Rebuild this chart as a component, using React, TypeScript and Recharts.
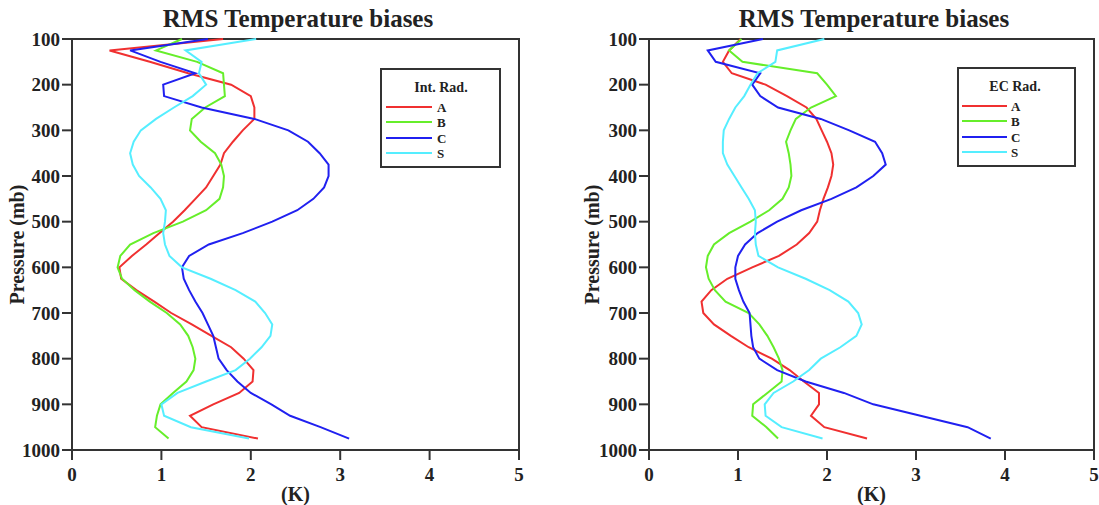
import React from 'react'
import { LineChart, Line, XAxis, YAxis, Legend, ReferenceArea } from 'recharts'

// pressure levels (mb), top of profile first
const levels = [100, 125, 150, 175, 200, 225, 250, 275, 300, 325, 350, 375, 400, 425, 450, 475, 500, 525, 550, 575, 600, 625, 650, 675, 700, 725, 750, 775, 800, 825, 850, 875, 900, 925, 950, 975]

// Int. Rad. panel
const intA = [1.69, 0.42, 0.87, 1.30, 1.78, 2.0, 2.04, 2.04, 1.91, 1.80, 1.70, 1.66, 1.58, 1.50, 1.38, 1.26, 1.13, 0.98, 0.83, 0.67, 0.53, 0.55, 0.72, 0.92, 1.11, 1.34, 1.56, 1.78, 1.92, 2.03, 2.02, 1.87, 1.58, 1.32, 1.45, 2.08]
const intB = [1.23, 0.94, 1.40, 1.69, 1.70, 1.71, 1.49, 1.34, 1.32, 1.44, 1.60, 1.67, 1.70, 1.69, 1.65, 1.50, 1.24, 0.91, 0.65, 0.54, 0.51, 0.56, 0.70, 0.87, 1.06, 1.21, 1.30, 1.35, 1.38, 1.36, 1.28, 1.13, 0.99, 0.95, 0.93, 1.08]
const intC = [1.52, 0.65, 0.99, 1.38, 1.02, 1.03, 1.45, 2.04, 2.42, 2.64, 2.77, 2.87, 2.87, 2.82, 2.70, 2.52, 2.24, 1.91, 1.53, 1.31, 1.23, 1.25, 1.31, 1.38, 1.46, 1.52, 1.58, 1.61, 1.64, 1.73, 1.85, 2.00, 2.23, 2.44, 2.78, 3.10]
const intS = [2.06, 1.27, 1.45, 1.42, 1.50, 1.35, 1.14, 0.94, 0.77, 0.69, 0.65, 0.68, 0.75, 0.88, 0.99, 1.05, 1.04, 1.02, 1.04, 1.09, 1.23, 1.55, 1.83, 2.05, 2.16, 2.24, 2.22, 2.12, 1.99, 1.83, 1.50, 1.18, 1.00, 1.03, 1.33, 1.98]

// EC Rad. panel
const ecA = [1.03, 0.90, 0.83, 0.93, 1.31, 1.55, 1.77, 1.88, 1.94, 2.00, 2.05, 2.07, 2.05, 2.01, 1.96, 1.92, 1.89, 1.80, 1.66, 1.46, 1.16, 0.88, 0.70, 0.59, 0.61, 0.73, 0.92, 1.12, 1.38, 1.58, 1.74, 1.91, 1.91, 1.82, 1.97, 2.45]
const ecB = [1.04, 0.90, 1.05, 1.89, 2.00, 2.10, 1.82, 1.65, 1.59, 1.54, 1.57, 1.59, 1.60, 1.57, 1.50, 1.35, 1.14, 0.90, 0.73, 0.66, 0.64, 0.67, 0.74, 0.86, 1.12, 1.24, 1.33, 1.40, 1.46, 1.50, 1.49, 1.33, 1.17, 1.16, 1.32, 1.45]
const ecC = [1.28, 0.66, 0.75, 1.25, 1.16, 1.25, 1.45, 1.93, 2.25, 2.54, 2.62, 2.66, 2.52, 2.33, 2.05, 1.71, 1.44, 1.22, 1.08, 1.00, 0.97, 0.97, 1.01, 1.06, 1.13, 1.14, 1.15, 1.17, 1.24, 1.44, 1.76, 2.19, 2.52, 3.05, 3.58, 3.84]
const ecS = [1.97, 1.44, 1.42, 1.22, 1.14, 1.07, 0.97, 0.90, 0.84, 0.83, 0.83, 0.88, 0.96, 1.04, 1.12, 1.19, 1.20, 1.19, 1.20, 1.23, 1.45, 1.76, 2.03, 2.24, 2.35, 2.39, 2.33, 2.15, 1.93, 1.80, 1.62, 1.40, 1.30, 1.31, 1.49, 1.95]

const kTicks = [0, 1, 2, 3, 4, 5]
const pTicks = [100, 200, 300, 400, 500, 600, 700, 800, 900, 1000]

const seriesNames = ['A', 'B', 'C', 'S']
const seriesColors = ['#f03030', '#66ee2a', '#2020f0', '#55eeff']

const serif = "'Liberation Serif', 'Times New Roman', serif"
const ink = '#222'
const axisColor = '#333'

function buildRows(a: number[], b: number[], c: number[], s: number[]) {
    return levels.map((p, i) => ({ p, A: a[i], B: b[i], C: c[i], S: s[i] }))
}

function LegendBox({ payload, title, width, lineX1, lineX2, textX, titleX }: any) {
    const rows = [39, 54, 70, 85]
    return (
        <svg width={width} height={100} style={{ display: 'block' }}>
            <rect x={1} y={1} width={width - 2} height={98} fill="#fff" stroke={axisColor} strokeWidth={2} />
            <text x={titleX} y={19} textAnchor="middle" dominantBaseline="central" fontFamily={serif} fontWeight="bold" fontSize={14} fill={ink}>
                {title}
            </text>
            {(payload || []).map((entry: any, i: number) => (
                <g key={entry.value}>
                    <line x1={lineX1} x2={lineX2} y1={rows[i]} y2={rows[i]} stroke={entry.color} strokeWidth={2} />
                    <text x={textX} y={rows[i]} dominantBaseline="central" fontFamily={serif} fontWeight="bold" fontSize={13} fill={ink}>
                        {entry.value}
                    </text>
                </g>
            ))}
        </svg>
    )
}

function Panel({ rows, left, width, axisWidth, labelOffset, legend }: any) {
    const tickStyle = { fill: ink, fontSize: 19, fontWeight: 'bold', fontFamily: serif }
    return (
        <div style={{ position: 'absolute', left, top: 0 }}>
            <LineChart
                layout="vertical"
                width={width}
                height={505}
                data={rows}
                margin={{ top: 39, right: width - legend.plotRight, left: 0, bottom: 0 }}
            >
                <XAxis
                    type="number"
                    domain={[0, 5]}
                    ticks={kTicks}
                    height={55}
                    tickSize={10}
                    tickMargin={8}
                    stroke={axisColor}
                    strokeWidth={2}
                    tick={tickStyle}
                    label={{ value: '(K)', position: 'insideBottom', offset: 4, fill: ink, fontSize: 20, fontWeight: 'bold', fontFamily: serif }}
                />
                <YAxis
                    type="number"
                    dataKey="p"
                    domain={[100, 1000]}
                    ticks={pTicks}
                    width={axisWidth}
                    tickSize={10}
                    stroke={axisColor}
                    strokeWidth={2}
                    tick={tickStyle}
                    interval={0}
                    label={{ value: 'Pressure (mb)', angle: -90, position: 'insideLeft', offset: labelOffset, style: { textAnchor: 'middle' }, fill: ink, fontSize: 20, fontWeight: 'bold', fontFamily: serif }}
                />
                <ReferenceArea x1={0} x2={5} y1={100} y2={1000} fill="none" stroke={axisColor} strokeWidth={2} strokeOpacity={1} />
                {seriesNames.map((name, i) => (
                    <Line
                        key={name}
                        type="linear"
                        dataKey={name}
                        name={name}
                        stroke={seriesColors[i]}
                        strokeWidth={2}
                        dot={false}
                        isAnimationActive={false}
                    />
                ))}
                <Legend
                    layout="vertical"
                    align="center"
                    verticalAlign="middle"
                    wrapperStyle={{ position: 'absolute', left: legend.left, top: legend.top, width: legend.width, height: 100 }}
                    content={(props: any) => (
                        <LegendBox
                            payload={props.payload}
                            title={legend.title}
                            width={legend.width}
                            lineX1={legend.lineX1}
                            lineX2={legend.lineX2}
                            textX={legend.textX}
                            titleX={legend.titleX}
                        />
                    )}
                />
            </LineChart>
        </div>
    )
}

const titleStyle: React.CSSProperties = {
    position: 'absolute',
    top: 6,
    width: 400,
    textAlign: 'center',
    fontFamily: serif,
    fontWeight: 'bold',
    fontSize: 25,
    lineHeight: '25px',
    color: ink,
}

export default function App() {
    const intRows = buildRows(intA, intB, intC, intS)
    const ecRows = buildRows(ecA, ecB, ecC, ecS)
    return (
        <div style={{ position: 'absolute', left: 0, top: 0, width: 1099, height: 505, background: '#fff', overflow: 'hidden' }}>
            <Panel
                rows={intRows}
                left={0}
                width={540}
                axisWidth={72}
                labelOffset={17}
                legend={{ plotRight: 519, left: 380, top: 68, width: 121, title: 'Int. Rad.', titleX: 61, lineX1: 6, lineX2: 52, textX: 57 }}
            />
            <Panel
                rows={ecRows}
                left={570}
                width={529}
                axisWidth={79}
                labelOffset={22}
                legend={{ plotRight: 524, left: 387, top: 67, width: 119, title: 'EC Rad.', titleX: 58, lineX1: 5, lineX2: 50, textX: 54 }}
            />
            <div style={{ ...titleStyle, left: 98 }}>RMS Temperature biases</div>
            <div style={{ ...titleStyle, left: 674 }}>RMS Temperature biases</div>
        </div>
    )
}
